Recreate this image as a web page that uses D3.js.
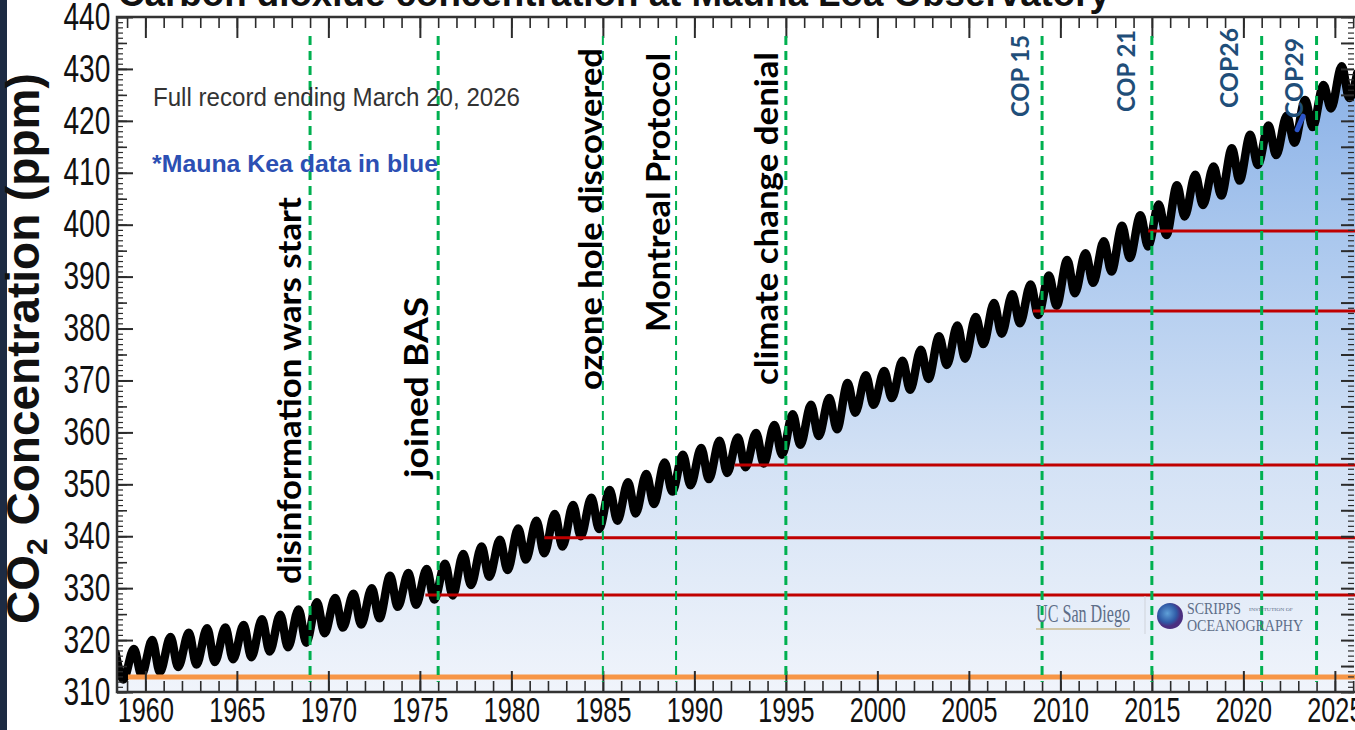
<!DOCTYPE html>
<html>
<head>
<meta charset="utf-8">
<script src="https://cdn.jsdelivr.net/npm/d3@7"></script>
<style>
body { margin: 0; background: #fff; }
svg { display: block; }
</style>
</head>
<body>
<div id="vis"></div>
<script>
// co2 record at Mauna Loa (ppm): seasonal high (May) and low (October) of each year
var cycleYears = [1958, 1959, 1960, 1961, 1962, 1963, 1964, 1965, 1966, 1967,
  1968, 1969, 1970, 1971, 1972, 1973, 1974, 1975, 1976, 1977,
  1978, 1979, 1980, 1981, 1982, 1983, 1984, 1985, 1986, 1987,
  1988, 1989, 1990, 1991, 1992, 1993, 1994, 1995, 1996, 1997,
  1998, 1999, 2000, 2001, 2002, 2003, 2004, 2005, 2006, 2007,
  2008, 2009, 2010, 2011, 2012, 2013, 2014, 2015, 2016, 2017,
  2018, 2019, 2020, 2021, 2022, 2023, 2024, 2025];
var mayPpm = [317.5, 318.3, 320.0, 320.6, 321.4, 322.3, 322.4, 322.9, 324.0, 324.9,
  325.9, 327.3, 328.1, 328.9, 330.0, 332.4, 332.9, 333.7, 334.7, 336.6,
  338.0, 339.3, 341.5, 343.0, 344.3, 346.0, 347.4, 348.9, 350.4, 352.0,
  354.2, 355.7, 357.0, 358.4, 359.0, 359.9, 361.4, 363.5, 365.3, 366.6,
  369.5, 371.0, 371.8, 373.8, 375.9, 378.5, 380.6, 382.2, 384.9, 386.6,
  388.5, 390.2, 393.2, 394.5, 396.8, 399.8, 401.8, 403.9, 407.6, 409.6,
  411.2, 414.7, 417.3, 419.1, 421.0, 424.0, 426.9, 430.5];
var octPpm = [312.4, 313.3, 313.8, 314.8, 315.3, 315.8, 316.3, 316.7, 317.8, 318.6,
  319.5, 321.3, 322.4, 323.0, 324.2, 326.4, 326.8, 327.8, 328.6, 330.6,
  332.2, 333.5, 335.5, 336.7, 338.0, 340.0, 341.4, 343.0, 344.4, 346.2,
  348.6, 349.8, 351.0, 352.2, 353.3, 354.0, 355.7, 357.6, 359.3, 360.6,
  363.8, 365.3, 366.6, 368.2, 370.3, 373.0, 374.2, 377.0, 379.0, 381.0,
  382.6, 384.4, 386.8, 388.8, 391.0, 393.6, 395.8, 398.0, 401.6, 403.8,
  405.6, 408.5, 411.5, 413.4, 415.8, 418.8, 422.4, 424.4];
var lastYear = 2026.22, lastPpm = 429.2;   // March 20, 2026

// Mauna Kea readings (blue)
var keaYears = [2022.94, 2023.26];
var keaPpm = [418.3, 420.9];

// events marked with green dashed lines
var eventYears = [1969, 1976, 1985, 1989, 1995, 2009, 2015, 2021, 2024];
var eventLabels = ["disinformation wars start", "joined BAS", "ozone hole discovered",
  "Montreal Protocol", "climate change denial", "COP 15", "COP 21", "COP26", "COP29"];

// reference levels (ppm) and the year they start from
var redStartYears = [1975.3, 1981.8, 1992.2, 2008.5, 2014.8];
var redLevels = [328.7, 339.7, 353.7, 383.4, 398.8];
var baseStartYear = 1959.05, baseLevel = 312.9;

var yLabelTicks = [310, 320, 330, 340, 350, 360, 370, 380, 390, 400, 410, 420, 430, 440];
var xLabelTicks = [1960, 1965, 1970, 1975, 1980, 1985, 1990, 1995, 2000, 2005, 2010, 2015, 2020, 2025];

var margin = {top: 17, right: 0, bottom: 38, left: 117};
var W = 1355, H = 730;
var plotBottom = H - margin.bottom;

var x = d3.scaleLinear().domain([1958.45, 2026.1]).range([margin.left, W - margin.right]);
var y = d3.scaleLinear().domain([310, 440]).range([plotBottom, margin.top]);

var series = [];
cycleYears.forEach(function(yr, i) {
  series.push({t: yr + 4.5 / 12, v: mayPpm[i]});
  series.push({t: yr + 9.5 / 12, v: octPpm[i]});
});
series.push({t: lastYear, v: lastPpm});

var svg = d3.select("#vis").append("svg")
  .attr("width", W)
  .attr("height", H);

var defs = svg.append("defs");
defs.append("clipPath").attr("id", "plotclip")
  .append("rect")
  .attr("x", margin.left).attr("y", margin.top)
  .attr("width", W - margin.left).attr("height", plotBottom - margin.top);

var grad = defs.append("linearGradient").attr("id", "areafill")
  .attr("gradientUnits", "userSpaceOnUse")
  .attr("x1", 0).attr("y1", plotBottom).attr("x2", 0).attr("y2", 50);
grad.append("stop").attr("offset", 0).attr("stop-color", "#f0f4fb");
grad.append("stop").attr("offset", 0.35).attr("stop-color", "#d4e2f5");
grad.append("stop").attr("offset", 0.7).attr("stop-color", "#abc8ee");
grad.append("stop").attr("offset", 1).attr("stop-color", "#86aee6");

var globe = defs.append("radialGradient").attr("id", "globe").attr("cx", "40%").attr("cy", "40%");
globe.append("stop").attr("offset", 0).attr("stop-color", "#5fa0d8");
globe.append("stop").attr("offset", 0.7).attr("stop-color", "#2f5aa6");
globe.append("stop").attr("offset", 1).attr("stop-color", "#4b2f80");

svg.append("rect").attr("x", 0).attr("y", 0).attr("width", W).attr("height", H).attr("fill", "#fff");
// dark slide edge on the left
svg.append("rect").attr("x", 0).attr("y", 0).attr("width", 7).attr("height", H).attr("fill", "#1d2b43");

// title, mostly cut off at the top
svg.append("text")
  .attr("x", 118).attr("y", 6)
  .attr("font-family", "Liberation Sans, Arial, sans-serif")
  .attr("font-weight", "bold")
  .attr("font-size", 36)
  .attr("textLength", 992).attr("lengthAdjust", "spacingAndGlyphs")
  .attr("fill", "#111")
  .text("Carbon dioxide concentration at Mauna Loa Observatory");

var plot = svg.append("g").attr("clip-path", "url(#plotclip)");

var area = d3.area()
  .x(function(d) { return x(d.t); })
  .y0(plotBottom)
  .y1(function(d) { return y(d.v); })
  .curve(d3.curveMonotoneX);

var line = d3.line()
  .x(function(d) { return x(d.t); })
  .y(function(d) { return y(d.v); })
  .curve(d3.curveMonotoneX);

plot.append("path").datum(series)
  .attr("d", area)
  .attr("fill", "url(#areafill)");

plot.append("path").datum(series)
  .attr("d", line)
  .attr("fill", "none")
  .attr("stroke", "#000")
  .attr("stroke-width", 8.5)
  .attr("stroke-linejoin", "round")
  .attr("stroke-linecap", "round");

plot.append("path").datum(keaYears.map(function(t, i) { return {t: t, v: keaPpm[i]}; }))
  .attr("d", d3.line().x(function(d) { return x(d.t); }).y(function(d) { return y(d.v); }))
  .attr("stroke", "#2c55c9")
  .attr("stroke-width", 5)
  .attr("stroke-linecap", "round");

// orange baseline and red levels
plot.append("line")
  .attr("x1", x(baseStartYear)).attr("x2", W)
  .attr("y1", y(baseLevel)).attr("y2", y(baseLevel))
  .attr("stroke", "#f79646").attr("stroke-width", 5);

plot.selectAll(".level").data(redLevels).enter().append("line")
  .attr("class", "level")
  .attr("x1", function(d, i) { return x(redStartYears[i]); })
  .attr("x2", W)
  .attr("y1", function(d) { return y(d); })
  .attr("y2", function(d) { return y(d); })
  .attr("stroke", "#c00000").attr("stroke-width", 3);

// axes and ticks
var tickColor = "#2b2b2b";
function clean(g, w) {
  g.select(".domain").remove();
  g.selectAll("line").attr("stroke", tickColor).attr("stroke-width", w);
}
var everyYear = d3.range(1959, 2027);
var everyPpm = d3.range(310, 441);
var fivePpm = d3.range(310, 441, 5);

svg.append("g").attr("transform", "translate(0," + margin.top + ")")
  .call(d3.axisBottom(x).tickValues(everyYear).tickSize(11).tickFormat(""))
  .call(clean, 1.6);
svg.append("g").attr("transform", "translate(0," + margin.top + ")")
  .call(d3.axisBottom(x).tickValues(xLabelTicks).tickSize(21).tickFormat(""))
  .call(clean, 2);

svg.append("g").attr("transform", "translate(0," + plotBottom + ")")
  .call(d3.axisBottom(x).tickValues(everyYear).tickSize(-11).tickFormat(""))
  .call(clean, 1.6);
var xAxis = svg.append("g").attr("transform", "translate(0," + plotBottom + ")")
  .call(d3.axisBottom(x).tickValues(xLabelTicks).tickSize(-21).tickPadding(5).tickFormat(d3.format("d")))
  .call(clean, 2);
xAxis.selectAll("text")
  .attr("font-family", "Liberation Sans, Arial, sans-serif")
  .attr("font-size", 35)
  .attr("fill", "#111")
  .attr("transform", "scale(0.72,1)");

svg.append("g").attr("transform", "translate(" + margin.left + ",0)")
  .call(d3.axisLeft(y).tickValues(everyPpm).tickSize(-6).tickFormat(""))
  .call(clean, 1.2);
svg.append("g").attr("transform", "translate(" + margin.left + ",0)")
  .call(d3.axisLeft(y).tickValues(fivePpm).tickSize(-10).tickFormat(""))
  .call(clean, 1.6);
var yAxis = svg.append("g").attr("transform", "translate(" + margin.left + ",0)")
  .call(d3.axisLeft(y).tickValues(yLabelTicks).tickSize(-16).tickPadding(9))
  .call(clean, 2);
yAxis.selectAll("text")
  .attr("font-family", "Liberation Sans, Arial, sans-serif")
  .attr("font-size", 38)
  .attr("fill", "#111")
  .attr("transform", "scale(0.74,1)");

svg.append("g").attr("transform", "translate(" + (W - 1) + ",0)")
  .call(d3.axisRight(y).tickValues(everyPpm).tickSize(-6).tickFormat(""))
  .call(clean, 1.2);
svg.append("g").attr("transform", "translate(" + (W - 1) + ",0)")
  .call(d3.axisRight(y).tickValues(fivePpm).tickSize(-13).tickFormat(""))
  .call(clean, 2);

// frame
svg.append("path")
  .attr("d", "M" + W + "," + margin.top + "H" + margin.left + "V" + plotBottom + "H" + W)
  .attr("fill", "none")
  .attr("stroke", "#333")
  .attr("stroke-width", 2.5);

// green dashed event lines
svg.selectAll(".event").data(eventYears).enter().append("line")
  .attr("class", "event")
  .attr("x1", function(d) { return x(d); })
  .attr("x2", function(d) { return x(d); })
  .attr("y1", 36).attr("y2", 682)
  .attr("stroke", "#00b050")
  .attr("stroke-width", function(d, i) { return (i == 2 || i == 3) ? 2 : 3; })
  .attr("stroke-dasharray", "9,6");

// labels beside the event lines: baseline x, bottom y, length, size
var eventLayout = [
  [301, 584, 387, 33], [428, 478, 181, 33], [602, 390, 342, 33], [670, 332, 279, 33],
  [778, 385, 333, 33], [1029, 117, 82, 25], [1135, 112, 82, 25], [1238, 108, 80, 25], [1303, 118, 80, 25]
];
svg.selectAll(".evlabel").data(eventLabels).enter().append("text")
  .attr("class", "evlabel")
  .attr("transform", function(d, i) { return "translate(" + eventLayout[i][0] + "," + eventLayout[i][1] + ") rotate(-90)"; })
  .attr("font-family", "Lato, 'Open Sans', sans-serif")
  .attr("font-weight", "bold")
  .attr("font-size", function(d, i) { return eventLayout[i][3]; })
  .attr("textLength", function(d, i) { return eventLayout[i][2]; })
  .attr("lengthAdjust", "spacingAndGlyphs")
  .attr("fill", function(d, i) { return i > 4 ? "#1f4e79" : "#000"; })
  .text(function(d) { return d; });

// notes
svg.append("text")
  .attr("x", 153).attr("y", 106)
  .attr("font-family", "Liberation Sans, Arial, sans-serif")
  .attr("font-size", 25)
  .attr("textLength", 367).attr("lengthAdjust", "spacingAndGlyphs")
  .attr("fill", "#333")
  .text("Full record ending March 20, 2026");

svg.append("text")
  .attr("x", 152).attr("y", 172)
  .attr("font-family", "Liberation Sans, Arial, sans-serif")
  .attr("font-weight", "bold")
  .attr("font-size", 23)
  .attr("textLength", 286).attr("lengthAdjust", "spacingAndGlyphs")
  .attr("fill", "#2c4fb3")
  .text("*Mauna Kea data in blue");

// y axis title
var ytitle = svg.append("text")
  .attr("transform", "translate(39,624) rotate(-90)")
  .attr("font-family", "Liberation Sans, Arial, sans-serif")
  .attr("font-weight", "bold")
  .attr("font-size", 46)
  .attr("fill", "#111");
ytitle.append("tspan").text("CO");
ytitle.append("tspan").attr("font-size", 30).attr("dy", 8).text("2");
ytitle.append("tspan").attr("dy", -8).text(" Concentration (ppm)");

// logos
var logo = svg.append("g")
  .attr("font-family", "Liberation Serif, 'DejaVu Serif', serif")
  .attr("fill", "#5d6d88");
logo.append("text").attr("x", 1036).attr("y", 622)
  .attr("font-size", 25)
  .attr("textLength", 94).attr("lengthAdjust", "spacingAndGlyphs")
  .text("UC San Diego");
logo.append("line").attr("x1", 1036).attr("x2", 1130).attr("y1", 629).attr("y2", 629)
  .attr("stroke", "#c9b98c").attr("stroke-width", 1.5);
logo.append("line").attr("x1", 1145).attr("x2", 1145).attr("y1", 596).attr("y2", 634)
  .attr("stroke", "#cfd3da").attr("stroke-width", 1);
logo.append("circle").attr("cx", 1170).attr("cy", 616).attr("r", 13)
  .attr("fill", "url(#globe)");
logo.append("text").attr("x", 1187).attr("y", 614)
  .attr("font-size", 17)
  .attr("textLength", 54).attr("lengthAdjust", "spacingAndGlyphs")
  .text("SCRIPPS");
logo.append("text").attr("x", 1249).attr("y", 611)
  .attr("font-size", 5)
  .attr("textLength", 44).attr("lengthAdjust", "spacingAndGlyphs")
  .text("INSTITUTION OF");
logo.append("text").attr("x", 1187).attr("y", 631)
  .attr("font-size", 17)
  .attr("textLength", 116).attr("lengthAdjust", "spacingAndGlyphs")
  .text("OCEANOGRAPHY");
</script>
</body>
</html>
